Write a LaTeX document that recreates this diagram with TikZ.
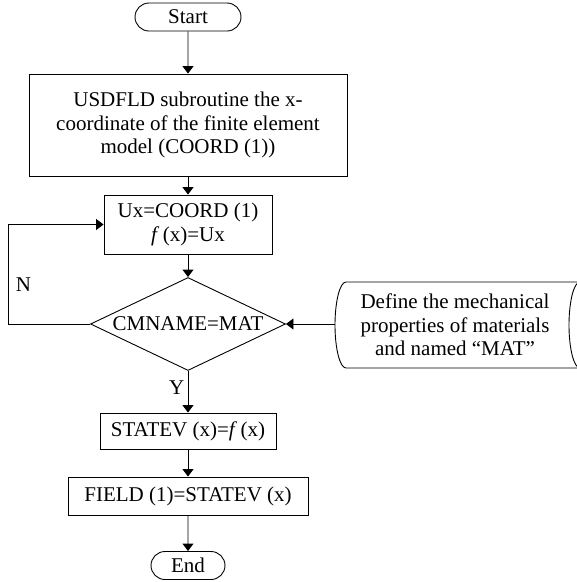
\documentclass[tikz,border=0pt]{standalone}
\usepackage{fontspec}
\setmainfont{Liberation Serif}
\usetikzlibrary{arrows.meta,positioning,shapes.geometric,shapes.misc}

\begin{document}
\begin{tikzpicture}[x=1pt,y=1pt,font=\fontsize{21}{23.5}\selectfont,
    term/.style={rounded rectangle,draw,line width=0.9pt,inner sep=2pt,
                 minimum height=28pt},
    proc/.style={draw,line width=0.9pt,align=center,inner sep=3pt},
    dec/.style={diamond,draw,line width=0.9pt,inner sep=0pt,aspect=2.1,
                minimum width=195pt,minimum height=93pt},
    arr/.style={-{Triangle[length=7.5pt,width=11pt]},line width=0.9pt}]
  \useasboundingbox (0,0) rectangle (577,-582);

  \node[term,minimum width=110pt] (start) at (188,-17) {Start};
  \node[proc,minimum width=318pt,minimum height=102pt] (usd) at (188,-125)
    {USDFLD subroutine the x-\\coordinate of the finite element\\model (COORD (1))};
  \node[proc,minimum width=168pt,minimum height=59pt] (ux) at (188,-224.5)
    {Ux=COORD (1)\\\textit{f}\,(x)=Ux};
  \node[dec] (cm) at (188,-324) {CMNAME=MAT};
  \node[proc,minimum width=176pt,minimum height=36pt] (statev) at (188,-431)
    {STATEV (x)=\textit{f}\,(x)};
  \node[proc,minimum width=240pt,minimum height=38pt] (field) at (188,-496)
    {FIELD (1)=STATEV (x)};
  \node[term,minimum width=78pt] (stop) at (188,-565.5) {End};

  % stored data symbol, cut by the right border
  \node[align=center] (mat) at (455,-325)
    {Define the mechanical\\properties of materials\\and named “MAT”};
  \draw[line width=0.9pt] (580,-282) -- (346,-282)
    arc[start angle=90,end angle=270,x radius=11,y radius=43] -- (580,-368)
    arc[start angle=270,end angle=90,x radius=11,y radius=43];
  \coordinate (matin) at (335,-324);

  \draw[arr] (start) -- (usd);
  \draw[arr] (usd) -- (ux);
  \draw[arr] (ux) -- (cm);
  \draw[arr] (cm) -- node[left,pos=0.4] (ylab) {Y} (statev);
  \draw[arr] (statev) -- (field);
  \draw[arr] (field) -- (stop);
  \draw[arr] (cm.west) -- ++(-82,0) |- node[pos=0.2,right,xshift=4pt] (nlab) {N} (ux.west);
  \draw[arr] (matin) -- (matin -| cm.east);
\end{tikzpicture}
\end{document}
